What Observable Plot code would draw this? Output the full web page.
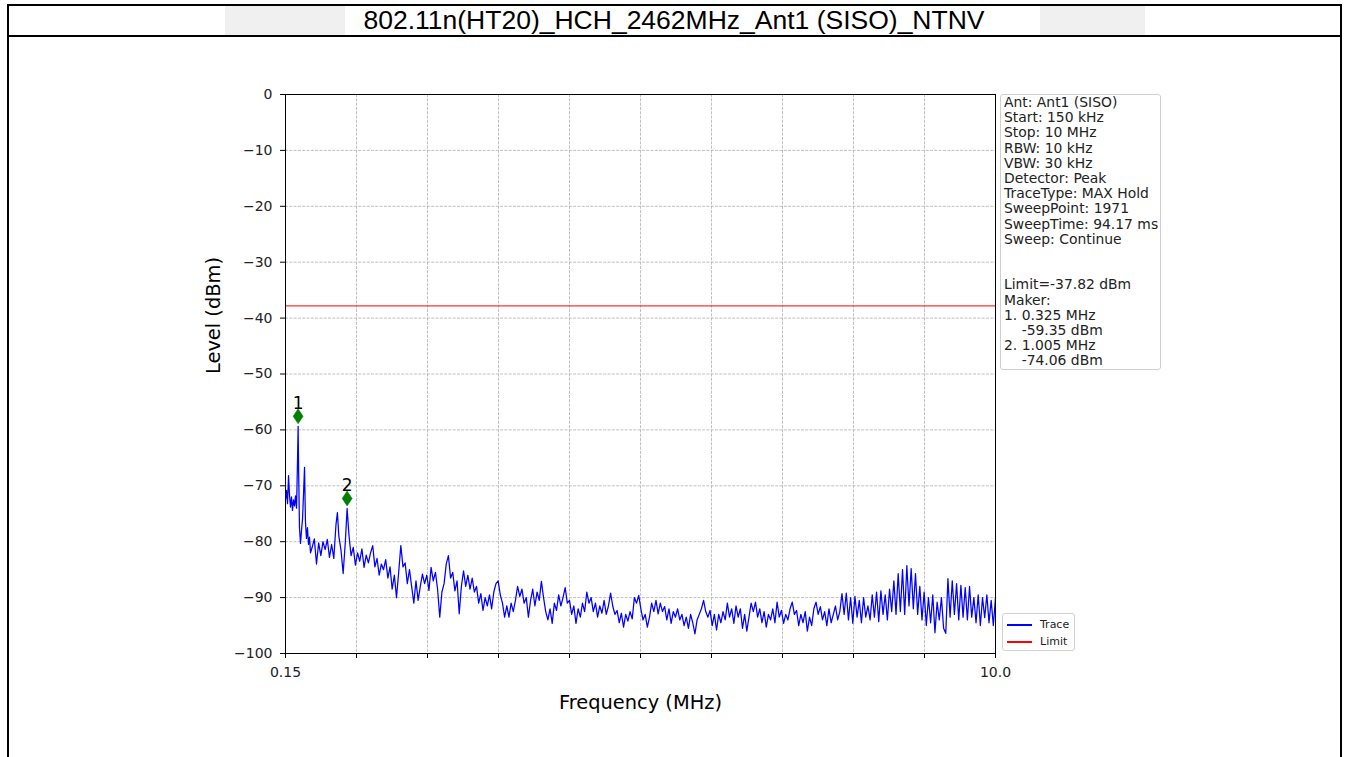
<!DOCTYPE html>
<html>
<head>
<meta charset="utf-8">
<script src="https://cdn.jsdelivr.net/npm/d3@7"></script>
<script src="https://cdn.jsdelivr.net/npm/@observablehq/plot@0.6"></script>
<style>
  html, body { margin: 0; padding: 0; background: #fff; }
  #page { position: relative; width: 1348px; height: 757px; overflow: hidden; background: #fff; }
  .wm { position: absolute; top: 6px; height: 29px; background: #f0f0f0; }
  #frame { position: absolute; left: 7px; top: 4px; width: 1331px; height: 800px; border: 2px solid #000; }
  #titleLine { position: absolute; left: 8px; top: 35px; width: 1332px; height: 2px; background: #000; }
  #title { position: absolute; left: 8px; top: 6px; width: 1332px; height: 29px; line-height: 29px; text-align: center;
           font-family: "Liberation Sans", Arial, sans-serif; font-size: 26.5px; color: #000; }
  #chart { position: absolute; left: 0; top: 37px; }
  #info { position: absolute; left: 1000px; top: 94px; width: 161px; height: 277px; overflow: hidden; z-index: 2; }
  #infoBox { position: absolute; left: 0; top: 0; width: 161px; height: 276px; border: 1px solid #cfcfcf; border-radius: 3px; background: #fff;
             font-family: "DejaVu Sans", sans-serif; font-size: 13.9px; line-height: 15.2px; color: #222; padding-left: 3px; box-sizing: border-box; white-space: pre; }
  #legend { position: absolute; left: 1002px; top: 613px; width: 73px; height: 38px; border: 1px solid #d3d3d3; border-radius: 3px; background: #fff;
            font-family: "DejaVu Sans", sans-serif; font-size: 11px; color: #222; z-index: 2; box-sizing: border-box; }
  .lg { position: absolute; left: 0; height: 16px; width: 73px; }
  .lg .sw { position: absolute; left: 4px; top: 7px; width: 25px; height: 1.5px; }
  .lg .tx { position: absolute; left: 37px; top: 0; line-height: 16px; }
</style>
</head>
<body>
<div id="page">
  <div class="wm" style="left:225px;width:120px"></div>
  <div class="wm" style="left:1040px;width:105px"></div>
  <div id="frame"></div>
  <div id="titleLine"></div>
  <div id="title"></div>
  <div id="chart"></div>
  <div id="info"><div id="infoBox"></div></div>
  <div id="legend"></div>
</div>
<script>
// ---------------- data ----------------
const chartTitle = "802.11n(HT20)_HCH_2462MHz_Ant1 (SISO)_NTNV";
const xLabel = "Frequency (MHz)";
const yLabel = "Level (dBm)";

const traceFreqMHz = [
  0.150,0.164,0.178,0.192,0.205,0.219,0.233,0.247,0.261,0.275,
  0.289,0.303,0.316,0.325,0.333,0.344,0.358,0.372,0.386,0.400,
  0.414,0.427,0.441,0.455,0.469,0.483,0.497,
  0.52,0.55,0.58,0.61,0.64,0.67,0.70,0.73,0.76,0.79,
  0.82,0.85,0.87,0.89,0.92,0.95,0.98,1.005,1.03,1.06,
  1.09,1.12,1.15,1.18,1.21,1.24,1.27,1.30,1.33,1.36,
  1.39,1.42,1.45,1.48,
  1.51,1.54,1.57,1.60,1.63,1.66,1.69,1.72,1.75,1.78,
  1.81,1.84,1.87,1.90,1.93,1.96,1.99,2.02,2.05,2.08,
  2.11,2.14,2.17,2.20,2.23,2.26,2.29,2.32,2.35,2.38,
  2.41,2.44,2.47,2.50,2.53,2.56,2.59,2.62,2.65,2.68,
  2.71,2.74,2.77,2.80,2.83,2.86,2.89,2.92,2.95,2.98,
  3.01,3.04,3.07,3.10,3.13,3.16,3.19,3.22,3.25,3.28,
  3.31,3.34,3.37,3.40,3.43,3.46,3.49,3.52,3.55,3.58,
  3.61,3.64,3.67,3.70,3.73,3.76,3.79,3.82,3.85,3.88,
  3.91,3.94,3.97,4.00,4.03,4.06,4.09,4.12,4.15,4.18,
  4.21,4.24,4.27,4.30,4.33,4.36,4.39,4.42,4.45,4.48,
  4.51,4.54,4.57,4.60,4.63,4.66,4.69,4.72,4.75,4.78,
  4.81,4.84,4.87,4.90,4.93,4.96,4.99,5.02,5.05,5.08,
  5.11,5.14,5.17,5.20,5.23,5.26,5.29,5.32,5.35,5.38,
  5.41,5.44,5.47,5.50,5.53,5.56,5.59,5.62,5.65,5.68,
  5.71,5.74,5.77,5.80,5.83,5.86,5.89,5.92,5.95,5.98,
  6.01,6.04,6.07,6.10,6.13,6.16,6.19,6.22,6.25,6.28,
  6.31,6.34,6.37,6.40,6.43,6.46,6.49,6.52,6.55,6.58,
  6.61,6.64,6.67,6.70,6.73,6.76,6.79,6.82,6.85,6.88,
  6.91,6.94,6.97,7.00,7.03,7.06,7.09,7.12,7.15,7.18,
  7.21,7.24,7.27,7.30,7.33,7.36,7.39,7.42,7.45,7.48,
  7.51,7.54,7.57,7.60,7.63,7.66,7.69,7.72,7.75,7.78,
  7.81,7.84,7.87,7.90,7.93,7.96,7.99,8.02,8.05,8.08,
  8.11,8.14,8.17,8.20,8.23,8.26,8.29,8.32,8.35,8.38,
  8.41,8.44,8.47,8.50,8.53,8.56,8.59,8.62,8.65,8.68,
  8.71,8.74,8.77,8.80,8.83,8.86,8.89,8.92,8.95,8.98,
  9.01,9.04,9.07,9.10,9.13,9.16,9.19,9.22,9.25,9.28,
  9.31,9.34,9.37,9.40,9.43,9.46,9.49,9.52,9.55,9.58,
  9.61,9.64,9.67,9.70,9.73,9.76,9.79,9.82,9.85,9.88,
  9.91,9.94,9.97,10.0
];

const traceLevelDbm = [
  -72.5,-70.8,-73.2,-68.2,-71.5,-73.8,-72.0,-74.4,-72.5,-73.6,
  -71.8,-74.0,-66.0,-59.35,-68.0,-77.5,-80.3,-78.0,-76.0,-71.5,
  -66.7,-76.5,-79.4,-77.5,-80.5,-79.2,-82.0,
  -81.0,-79.5,-84.0,-80.2,-82.5,-80.0,-81.4,-79.6,-82.8,-80.5,
  -83.0,-77.0,-74.8,-79.0,-81.5,-85.7,-80.0,-74.06,-78.8,-82.5,
  -81.0,-84.2,-82.0,-83.5,-81.3,-84.6,-82.4,-83.8,-82.0,-80.7,
  -84.5,-83.0,-86.0,-84.0,
  -85.0,-83.2,-86.5,-84.5,-88.5,-86.0,-90.0,-85.5,-80.7,-84.5,
  -83.8,-87.5,-85.0,-88.0,-91.0,-87.0,-90.5,-88.0,-85.8,-87.5,
  -86.0,-88.7,-84.6,-87.0,-85.5,-88.5,-93.5,-89.0,-87.5,-84.0,
  -82.5,-86.5,-85.5,-88.8,-87.0,-92.9,-88.0,-85.2,-88.0,-86.0,
  -88.5,-86.5,-89.0,-88.0,-91.0,-89.3,-92.3,-90.0,-91.5,-89.5,
  -92.0,-89.0,-87.5,-87.0,-89.5,-91.0,-93.5,-91.5,-93.5,-91.0,
  -92.5,-90.5,-88.0,-89.8,-88.5,-91.0,-90.0,-93.5,-90.5,-88.5,
  -91.5,-89.0,-90.5,-87.1,-90.0,-92.5,-94.0,-92.0,-94.6,-91.0,
  -92.3,-89.5,-91.5,-90.0,-88.2,-91.0,-90.5,-93.0,-91.5,-94.6,
  -92.0,-93.5,-91.0,-92.5,-89.0,-91.0,-90.0,-92.5,-91.0,-93.5,
  -91.5,-92.8,-90.5,-93.0,-91.5,-89.2,-91.5,-93.0,-92.3,-94.5,
  -92.8,-95.3,-93.0,-94.2,-92.5,-93.8,-90.0,-91.0,-89.6,-92.0,
  -94.0,-93.0,-95.3,-93.5,-91.0,-92.5,-90.5,-92.9,-91.0,-92.5,
  -91.6,-94.0,-92.0,-94.6,-92.5,-93.5,-92.0,-94.0,-93.0,-95.0,
  -93.5,-95.5,-93.0,-94.5,-96.5,-94.0,-93.0,-92.0,-90.5,-92.5,
  -93.5,-92.3,-95.0,-93.0,-95.8,-93.0,-94.5,-92.5,-94.0,-91.0,
  -93.5,-92.0,-94.6,-91.5,-93.5,-92.0,-95.5,-93.0,-96.0,-93.5,
  -91.0,-92.5,-90.8,-93.5,-92.0,-94.5,-92.5,-95.3,-93.0,-94.0,
  -92.0,-94.5,-90.8,-93.5,-92.3,-94.6,-93.0,-94.0,-92.0,-90.8,
  -93.0,-92.3,-95.0,-93.0,-94.5,-92.5,-96.0,-93.5,-95.0,-92.0,
  -90.8,-93.0,-91.6,-94.0,-92.5,-95.0,-92.0,-94.5,-93.0,-91.5,
  -94.0,-92.5,-89.3,-93.0,-89.2,-94.0,-90.0,-94.6,-89.8,-93.5,
  -90.5,-94.5,-90.0,-93.5,-91.5,-94.0,-89.5,-93.5,-89.0,-94.3,
  -88.8,-93.0,-89.5,-94.0,-88.5,-92.5,-87.0,-93.0,-85.7,-92.5,
  -85.0,-93.0,-84.3,-91.5,-84.8,-92.0,-85.7,-93.0,-88.0,-94.0,
  -89.0,-95.0,-90.0,-94.5,-89.5,-96.3,-90.8,-94.0,-90.0,-95.5,
  -96.4,-86.6,-93.5,-87.0,-93.0,-87.5,-94.0,-87.8,-93.5,-88.2,
  -94.0,-88.0,-93.5,-90.0,-94.5,-89.5,-95.0,-90.0,-93.6,-89.5,
  -94.5,-90.5,-95.0,-90.0
];

const limitDbm = -37.82;

const markerFreqMHz = [0.325, 1.005];
const markerLevelDbm = [-59.35, -74.06];
const markerLabels = ["1", "2"];

const xTickValues = [0.15, 1.135, 2.12, 3.105, 4.09, 5.075, 6.06, 7.045, 8.03, 9.015, 10.0];
const xTickLabels = ["0.15", "", "", "", "", "", "", "", "", "", "10.0"];
const yTickValues = [0, -10, -20, -30, -40, -50, -60, -70, -80, -90, -100];

const infoLines = [
  "Ant: Ant1 (SISO)", "Start: 150 kHz", "Stop: 10 MHz", "RBW: 10 kHz", "VBW: 30 kHz",
  "Detector: Peak", "TraceType: MAX Hold", "SweepPoint: 1971", "SweepTime: 94.17 ms", "Sweep: Continue",
  "", "", "Limit=-37.82 dBm", "Maker:", "1. 0.325 MHz", "    -59.35 dBm", "2. 1.005 MHz", "    -74.06 dBm"
];
const legendNames = ["Trace", "Limit"];
const legendColors = ["#0000ff", "#ff0000"];

// ---------------- build ----------------
const trace = traceFreqMHz.map((f, i) => ({f, L: traceLevelDbm[i]}));
const markers = markerFreqMHz.map((f, i) => ({f, L: markerLevelDbm[i], label: markerLabels[i]}));
const xLabelMap = new Map(xTickValues.map((v, i) => [v, xTickLabels[i]]));
const fmtY = d => d < 0 ? "\u2212" + Math.abs(d) : String(d);

const thinDiamond = {
  draw(context) {
    const h = 7.5, w = 5;
    context.moveTo(0, -h);
    context.lineTo(w, 0);
    context.lineTo(0, h);
    context.lineTo(-w, 0);
    context.closePath();
  }
};

const grid = {stroke: "#b0b0b0", strokeOpacity: 1, strokeWidth: 0.8, strokeDasharray: "3,1.3"};

const chart = Plot.plot({
  width: 1348,
  height: 720,
  marginLeft: 285,
  marginRight: 353,
  marginTop: 57,
  marginBottom: 104,
  style: {fontFamily: "'DejaVu Sans', sans-serif", fontSize: "14px", color: "#222", background: "transparent", overflow: "visible"},
  x: {type: "linear", domain: [0.15, 10]},
  y: {type: "linear", domain: [-100, 0]},
  marks: [
    Plot.gridX(xTickValues, grid),
    Plot.gridY(yTickValues, grid),
    Plot.ruleY([limitDbm], {stroke: "#ff0000", strokeWidth: 1}),
    Plot.line(trace, {x: "f", y: "L", stroke: "#0000ff", strokeWidth: 1.25}),
    Plot.dot(markers, {x: "f", y: "L", symbol: thinDiamond, fill: "#008000", stroke: "#008000", strokeWidth: 0.5, dy: -10}),
    Plot.text(markers, {x: "f", y: "L", text: "label", dy: -23, fontSize: 17, fill: "#000"}),
    Plot.frame({stroke: "#000", strokeWidth: 1}),
    Plot.axisX(xTickValues, {tickSize: 5, tickPadding: 9, tickFormat: d => xLabelMap.get(d), label: null, fontSize: 14, stroke: "#000"}),
    Plot.axisY(yTickValues, {tickSize: 5, tickPadding: 8, tickFormat: fmtY, label: null, fontSize: 14, stroke: "#000"}),
    Plot.text([yLabel], {frameAnchor: "left", dx: -72, rotate: -90, fontSize: 19.4, fill: "#000"}),
    Plot.text([xLabel], {frameAnchor: "bottom", dy: 55, fontSize: 19.4, fill: "#000"})
  ]
});
document.getElementById("chart").appendChild(chart);

document.getElementById("title").textContent = chartTitle;
document.getElementById("infoBox").textContent = infoLines.join("\n");

const lg = document.getElementById("legend");
legendNames.forEach((name, i) => {
  const row = document.createElement("div");
  row.className = "lg";
  row.style.top = (3 + i * 17) + "px";
  const sw = document.createElement("div");
  sw.className = "sw";
  sw.style.background = legendColors[i];
  const tx = document.createElement("div");
  tx.className = "tx";
  tx.textContent = name;
  row.appendChild(sw);
  row.appendChild(tx);
  lg.appendChild(row);
});
</script>
</body>
</html>
